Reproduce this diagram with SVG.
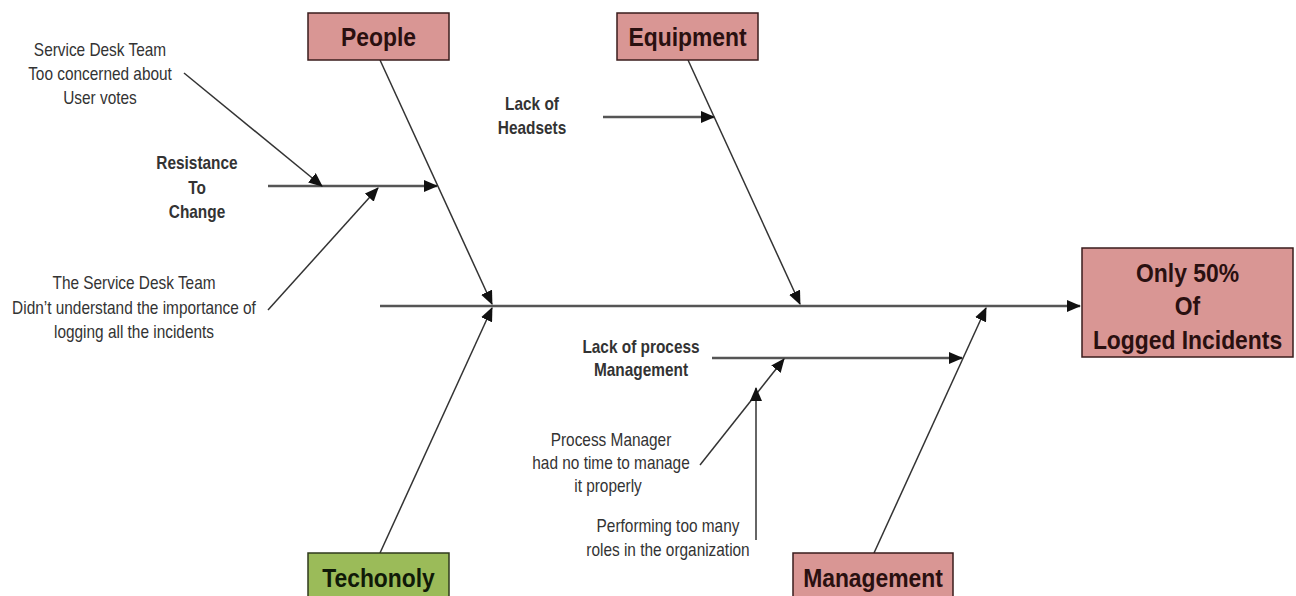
<svg xmlns="http://www.w3.org/2000/svg" width="1296" height="596" viewBox="0 0 1296 596">
<style>
.box{fill:#D99694;stroke:#3a1c1c;stroke-width:1.5}
.boxg{fill:#9BBB59;stroke:#2f3a1c;stroke-width:1.5}
.hd{font-family:"Liberation Sans",Arial,sans-serif;font-weight:bold;font-size:26px;fill:#2a1010;text-anchor:middle}
.hdg{font-family:"Liberation Sans",Arial,sans-serif;font-weight:bold;font-size:26px;fill:#101a08;text-anchor:middle}
.t{font-family:"Liberation Sans",Arial,sans-serif;font-size:17.5px;fill:#333;text-anchor:middle}
.b{font-family:"Liberation Sans",Arial,sans-serif;font-weight:bold;font-size:17.5px;fill:#333;text-anchor:middle}
.ln{stroke:#333;stroke-width:1.5;fill:none}
.lw{stroke:#555;stroke-width:2.4;fill:none}
</style>
<defs>
<marker id="ah" markerUnits="userSpaceOnUse" markerWidth="14" markerHeight="12" viewBox="0 0 14 12" refX="13" refY="6" orient="auto">
<path d="M0,0 L14,6 L0,12 Z" fill="#111"/>
</marker>
</defs>
<rect width="1296" height="596" fill="#fff"/>
<g id="connectors">
<line class="lw" x1="380" y1="306" x2="1080" y2="306" marker-end="url(#ah)"/>
<line class="ln" x1="380" y1="60" x2="492" y2="304" marker-end="url(#ah)"/>
<line class="ln" x1="688" y1="60" x2="800" y2="304" marker-end="url(#ah)"/>
<line class="ln" x1="380" y1="553" x2="492" y2="308" marker-end="url(#ah)"/>
<line class="ln" x1="874" y1="553" x2="986" y2="308" marker-end="url(#ah)"/>
<line class="lw" x1="268" y1="186" x2="437" y2="186" marker-end="url(#ah)"/>
<line class="ln" x1="184" y1="73" x2="322" y2="186" marker-end="url(#ah)"/>
<line class="ln" x1="268" y1="310" x2="378" y2="188" marker-end="url(#ah)"/>
<line class="lw" x1="603" y1="117" x2="714" y2="117" marker-end="url(#ah)"/>
<line class="lw" x1="712" y1="358" x2="962" y2="358" marker-end="url(#ah)"/>
<line class="ln" x1="700" y1="465" x2="784" y2="359" marker-end="url(#ah)"/>
<line class="ln" x1="756" y1="540" x2="756" y2="388" marker-end="url(#ah)"/>
</g>
<g id="people">
<rect class="box" x="308" y="13" width="141" height="47"/>
<text class="hd" transform="translate(378.5,46) scale(0.88,1)">People</text>
</g>
<g id="equipment">
<rect class="box" x="617" y="13" width="141" height="47"/>
<text class="hd" transform="translate(687.5,46) scale(0.88,1)">Equipment</text>
</g>
<g id="result">
<rect class="box" x="1082" y="248" width="211" height="109"/>
<text class="hd" transform="translate(1187.5,282) scale(0.88,1)">Only 50%</text>
<text class="hd" transform="translate(1187.5,315) scale(0.88,1)">Of</text>
<text class="hd" transform="translate(1187.5,349) scale(0.88,1)">Logged Incidents</text>
</g>
<g id="technology">
<rect class="boxg" x="308" y="553" width="141" height="50"/>
<text class="hdg" transform="translate(378.5,587) scale(0.88,1)">Techonoly</text>
</g>
<g id="management">
<rect class="box" x="793" y="553" width="160" height="50"/>
<text class="hd" transform="translate(873,587) scale(0.88,1)">Management</text>
</g>
<g id="resistance">
<text class="b" transform="translate(197,169) scale(0.88,1)">Resistance</text>
<text class="b" transform="translate(197,194) scale(0.88,1)">To</text>
<text class="b" transform="translate(197,218) scale(0.88,1)">Change</text>
</g>
<g id="votes">
<text class="t" transform="translate(100,56) scale(0.88,1)">Service Desk Team</text>
<text class="t" transform="translate(100,80) scale(0.88,1)">Too concerned about</text>
<text class="t" transform="translate(100,104) scale(0.88,1)">User votes</text>
</g>
<g id="logging">
<text class="t" transform="translate(134,289) scale(0.88,1)">The Service Desk Team</text>
<text class="t" transform="translate(134,314) scale(0.88,1)">Didn’t understand the importance of</text>
<text class="t" transform="translate(134,338) scale(0.88,1)">logging all the incidents</text>
</g>
<g id="headsets">
<text class="b" transform="translate(532,110) scale(0.88,1)">Lack of</text>
<text class="b" transform="translate(532,134) scale(0.88,1)">Headsets</text>
</g>
<g id="process">
<text class="b" transform="translate(641,353) scale(0.88,1)">Lack of process</text>
<text class="b" transform="translate(641,376) scale(0.88,1)">Management</text>
</g>
<g id="manager">
<text class="t" transform="translate(611,446) scale(0.88,1)">Process Manager</text>
<text class="t" transform="translate(611,469) scale(0.88,1)">had no time to manage</text>
<text class="t" transform="translate(608,492) scale(0.88,1)">it properly</text>
</g>
<g id="roles">
<text class="t" transform="translate(668,532) scale(0.88,1)">Performing too many</text>
<text class="t" transform="translate(668,556) scale(0.88,1)">roles in the organization</text>
</g>
</svg>
